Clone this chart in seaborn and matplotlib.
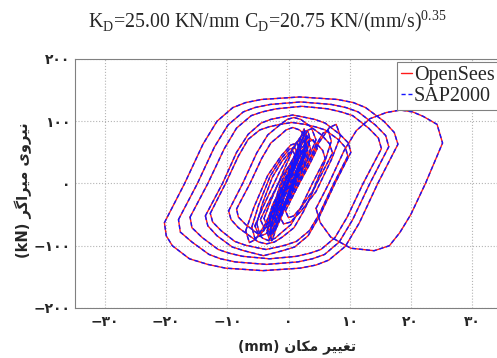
import matplotlib
matplotlib.use("Agg")
import matplotlib.pyplot as plt
from matplotlib.lines import Line2D
import pandas as pd
import seaborn as sns

# damper hysteresis loops, (displacement mm, force kN), clockwise
outer_1 = [(-20.3, -63), (-17.0, 0), (-14.0, 63), (-11.7, 100), (-9.1, 122), (-7.0, 130), (-4.4, 135),
           (1.8, 139), (8.0, 135), (10.6, 130), (12.6, 122), (15.6, 100), (17.3, 82), (17.9, 63),
           (14.6, 0), (11.6, -63), (9.3, -101), (6.6, -123), (4.5, -131), (1.9, -136), (-4.2, -140),
           (-10.3, -136), (-13.2, -130), (-16.2, -121), (-19.0, -100), (-20.0, -84)]
outer_2 = [(-18.0, -58), (-14.9, 0), (-12.1, 59), (-9.9, 94), (-7.4, 115), (-5.5, 122), (-3.0, 127),
           (2.0, 131), (7.0, 127), (9.4, 122), (11.4, 115), (14.2, 94), (15.9, 77), (16.4, 59),
           (13.3, 0), (10.5, -58), (8.3, -94), (5.9, -114), (3.9, -121), (1.5, -126), (-3.6, -130),
           (-8.7, -126), (-11.1, -121), (-13.0, -114), (-15.8, -94), (-17.7, -78)]
outer_3 = [(-16.1, -54), (-13.2, 0), (-10.5, 56), (-8.5, 89), (-6.1, 109), (-4.3, 115), (-2.0, 120),
           (2.2, 124), (6.4, 120), (8.6, 115), (10.5, 109), (13.1, 89), (14.7, 73), (15.2, 56),
           (12.2, 0), (9.6, -54), (7.6, -87), (5.3, -106), (3.5, -112), (1.3, -117), (-3.1, -121),
           (-7.5, -117), (-9.7, -112), (-11.5, -106), (-14.1, -87), (-15.8, -71)]
outer_4 = [(-13.6, -52), (-10.8, 0), (-8.5, 50), (-6.6, 79), (-4.5, 97), (-2.9, 103), (-0.9, 107),
           (0.7, 110), (2.3, 107), (4.3, 103), (6.0, 97), (8.4, 79), (9.8, 65), (10.2, 50),
           (7.6, 0), (5.1, -52), (3.2, -84), (1.0, -102), (-1.0, -108), (-2.9, -113), (-4.1, -116),
           (-5.3, -113), (-7.3, -108), (-9.2, -102), (-11.7, -84), (-13.2, -68)]
outer_5 = [(-12.8, -48), (-10.3, 0), (-8.2, 44), (-6.6, 71), (-4.7, 86), (-3.2, 91), (-1.4, 95),
           (0.6, 98), (2.7, 95), (4.4, 91), (6.0, 86), (8.1, 71), (9.3, 58), (9.7, 44),
           (7.4, 0), (5.1, -48), (3.4, -76), (1.3, -93), (-0.5, -99), (-2.2, -103), (-3.7, -106),
           (-5.2, -103), (-7.1, -99), (-8.8, -93), (-11.0, -76), (-12.4, -62)]
mid_6 = [(-9.8, -44), (-7.5, 0), (-5.2, 49), (-3.4, 78), (-1.3, 95), (-0.2, 103), (0.9, 106),
         (2.0, 103), (3.1, 95), (5.4, 78), (6.7, 64), (7.2, 49), (4.6, 0), (2.5, -44), (0.9, -71),
         (-1.0, -86), (-2.3, -94), (-3.6, -97), (-4.9, -94), (-6.1, -86), (-8.2, -71), (-9.4, -58)]
mid_7 = [(-8.5, -41), (-6.3, 0), (-4.4, 40), (-2.9, 65), (-1.2, 79), (-0.4, 86), (0.7, 90),
         (1.8, 86), (2.6, 79), (4.5, 65), (5.6, 53), (6.0, 40), (3.9, 0), (1.9, -41), (0.4, -66),
         (-1.4, -81), (-2.2, -88), (-3.2, -92), (-4.2, -88), (-5.0, -81), (-7.0, -66), (-8.2, -54)]
right_big = [(4.5, -40), (6.6, 0), (9.1, 53), (11.1, 85), (13.3, 104), (16.0, 114), (18.3, 118),
             (20.3, 115), (22.0, 108), (24.3, 95), (25.2, 65), (22.4, 0), (20.0, -50), (18.2, -79),
             (16.5, -100), (14.0, -108), (10.2, -104), (6.9, -86), (5.2, -63)]
small_m1 = [(-5.5, -68), (-4.0, -34), (-1.5, 18), (1.0, 62), (2.7, 84), (3.8, 88),
            (4.5, 70), (3.0, 35), (0.5, -17), (-2.0, -60), (-3.7, -81), (-4.8, -85)]
small_m2 = [(-4.6, -58), (-3.2, -29), (-0.9, 14), (1.45, 49), (3.0, 66), (4.05, 70),
            (4.7, 56), (3.3, 28), (1.0, -14), (-1.35, -50), (-2.9, -68), (-3.95, -72)]
small_m3 = [(-4.0, -56), (-2.9, -28), (-1.0, 16), (0.8, 56), (2.1, 76), (2.9, 80),
            (3.4, 64), (2.3, 32), (0.4, -14), (-1.4, -49), (-2.7, -66), (-3.5, -70)]
small_p1 = [(-7.0, -76), (-5.65, -38), (-3.4, 13), (-1.15, 45), (0.4, 62), (1.4, 65),
            (2.0, 52), (0.65, 26), (-1.6, -19), (-3.85, -66), (-5.4, -90), (-6.4, -95)]
small_p2 = [(-6.0, -70), (-4.9, -35), (-3.0, 12), (-1.1, 41), (0.15, 55), (1.0, 58),
            (1.5, 46), (0.4, 23), (-1.5, -18), (-3.4, -62), (-4.65, -84), (-5.5, -88)]
small_p3 = [(-5.2, -64), (-4.25, -32), (-2.65, 10), (-1.05, 36), (0.05, 49), (0.75, 52),
            (1.2, 42), (0.25, 21), (-1.35, -16), (-2.95, -56), (-4.05, -76), (-4.75, -80)]
small_r1 = [(-1.5, -52), (0.0, -26), (2.5, 19), (5.0, 66), (6.7, 90), (7.8, 95),
            (8.5, 76), (7.0, 38), (4.5, -13), (2.0, -45), (0.3, -62), (-0.8, -65)]
small_r2 = [(-0.5, -44), (0.63, -22), (2.5, 17), (4.4, 60), (5.65, 81), (6.5, 85),
            (7.0, 68), (5.9, 34), (4.0, -11), (2.1, -38), (0.85, -52), (0.0, -55)]
core_1 = [(-3.5, -76), (-2.8, -50), (-0.7, 0), (1.4, 51), (2.45, 75), (3.15, 85),
          (3.5, 72), (2.8, 47), (0.7, 0), (-1.4, -54), (-2.45, -79), (-3.15, -90)]
core_2 = [(-3.0, -68), (-2.4, -44), (-0.6, 0), (1.2, 42), (2.1, 62), (2.7, 70),
          (3.0, 60), (2.4, 38), (0.6, 0), (-1.2, -48), (-2.1, -70), (-2.7, -80)]
core_3 = [(-2.6, -60), (-2.0, -38), (-0.3, 0), (1.45, 36), (2.35, 53), (2.9, 60),
          (3.2, 51), (2.6, 33), (0.9, 0), (-0.85, -42), (-1.75, -62), (-2.3, -70)]
core_4 = [(-2.2, -55), (-1.7, -36), (-0.3, 0), (1.15, 33), (1.9, 48), (2.35, 55),
          (2.6, 47), (2.1, 30), (0.7, 0), (-0.75, -39), (-1.5, -57), (-1.95, -65)]
core_5 = [(-2.0, -47), (-1.55, -30), (-0.25, 0), (1.1, 30), (1.75, 44), (2.2, 50),
          (2.4, 42), (1.95, 27), (0.65, 0), (-0.7, -33), (-1.35, -48), (-1.8, -55)]
core_6 = [(-1.6, -42), (-1.25, -27), (-0.15, 0), (0.9, 27), (1.45, 40), (1.8, 45),
          (2.0, 38), (1.65, 25), (0.55, 0), (-0.5, -30), (-1.05, -44), (-1.4, -50)]
core_7 = [(-1.2, -34), (-0.9, -22), (-0.1, 0), (0.75, 21), (1.2, 31), (1.45, 35),
          (1.6, 30), (1.3, 19), (0.5, 0), (-0.35, -24), (-0.8, -35), (-1.05, -40)]
core_8 = [(-3.2, -53), (-2.6, -34), (-0.8, 0), (1.0, 45), (1.9, 66), (2.5, 75),
          (2.8, 64), (2.2, 41), (0.4, 0), (-1.4, -37), (-2.3, -55), (-2.9, -62)]
core_9 = [(-2.8, -66), (-2.15, -43), (-0.25, 0), (1.7, 40), (2.65, 58), (3.3, 66),
          (3.6, 56), (2.95, 36), (1.05, 0), (-0.9, -47), (-1.85, -69), (-2.5, -78)]
core_10 = [(-1.8, -38), (-1.35, -25), (0.05, 0), (1.4, 53), (2.1, 77), (2.55, 88),
           (2.8, 75), (2.35, 48), (0.95, 0), (-0.4, -27), (-1.1, -40), (-1.55, -45)]
core_11 = [(-3.0, -78), (-2.5, -51), (-1.1, 0), (0.35, 24), (1.1, 35), (1.55, 40),
           (1.8, 34), (1.3, 22), (-0.1, 0), (-1.55, -55), (-2.3, -81), (-2.75, -92)]
core_12 = [(-2.4, -51), (-1.86, -33), (-0.24, 0), (1.38, 48), (2.19, 70), (2.73, 80),
           (3.0, 68), (2.46, 44), (0.84, 0), (-0.78, -36), (-1.59, -53), (-2.13, -60)]
core_13 = [(-1.4, -41), (-0.98, -26), (0.28, 0), (1.54, 43), (2.17, 63), (2.59, 72),
           (2.8, 61), (2.38, 40), (1.12, 0), (-0.14, -29), (-0.77, -42), (-1.19, -48)]
core_14 = [(-3.3, -72), (-2.8, -47), (-1.3, 0), (0.2, 30), (0.95, 44), (1.45, 50),
           (1.7, 42), (1.2, 27), (-0.3, 0), (-1.8, -51), (-2.55, -75), (-3.05, -85)]

loops = {
    "outer_1": outer_1, "outer_2": outer_2, "outer_3": outer_3, "outer_4": outer_4,
    "outer_5": outer_5, "mid_6": mid_6, "mid_7": mid_7, "right_big": right_big,
    "small_m1": small_m1, "small_m2": small_m2, "small_m3": small_m3,
    "small_p1": small_p1, "small_p2": small_p2, "small_p3": small_p3,
    "small_r1": small_r1, "small_r2": small_r2,
    "core_1": core_1, "core_2": core_2, "core_3": core_3, "core_4": core_4,
    "core_5": core_5, "core_6": core_6, "core_7": core_7, "core_8": core_8,
    "core_9": core_9, "core_10": core_10, "core_11": core_11, "core_12": core_12,
    "core_13": core_13, "core_14": core_14,
}

x_ticks = [-30, -20, -10, 0, 10, 20, 30]
x_tick_labels = ["\u2212\u06f3\u06f0", "\u2212\u06f2\u06f0", "\u2212\u06f1\u06f0", "\u06f0",
                 "\u06f1\u06f0", "\u06f2\u06f0", "\u06f3\u06f0"]
y_ticks = [-200, -100, 0, 100, 200]
y_tick_labels = ["\u2212\u06f2\u06f0\u06f0", "\u2212\u06f1\u06f0\u06f0", "\u06f0",
                 "\u06f1\u06f0\u06f0", "\u06f2\u06f0\u06f0"]

# persian labels written in shaped presentation forms, visual order
x_label = "(mm) \ufee5\ufe8e\ufb91\ufee3 \ufeae\ufef4\ufef4\ufed0\ufe97"
y_label = "(kN) \ufeae\ufb94\ufe8d\ufeae\ufef4\ufee3 \ufeef\ufeed\ufeae\ufef4\ufee7"
title = (r"K$_{\mathregular{D}}$=25.00 KN/mm C$_{\mathregular{D}}$=20.75 "
         r"KN/(mm/s)$^{\mathregular{0.35}}$")

rows = []
for name, pts in loops.items():
    closed = pts + pts[:1]
    for i, (d, f) in enumerate(closed):
        rows.append((name, i, d, f))
df = pd.DataFrame(rows, columns=["loop", "step", "disp", "force"])

sns.set_theme(style="white")
plt.rcParams["font.family"] = ["DejaVu Sans"]

red = "#ff1a1a"
blue = "#1414ff"

fig = plt.figure(figsize=(4.97, 3.58), dpi=100)
ax = fig.add_axes([0.150, 0.1397, 0.861, 0.6955])

sns.lineplot(data=df, x="disp", y="force", units="loop", estimator=None, sort=False,
             color=red, lw=1.0, ax=ax, legend=False)
sns.lineplot(data=df, x="disp", y="force", units="loop", estimator=None, sort=False,
             color=blue, lw=1.0, linestyle=(0, (3, 2)), ax=ax, legend=False)

ax.set_xlim(-35, 35)
ax.set_ylim(-200, 200)
ax.set_xticks(x_ticks)
ax.set_xticklabels(x_tick_labels, fontweight="bold", fontsize=10)
ax.set_yticks(y_ticks)
ax.set_yticklabels(y_tick_labels, fontweight="bold", fontsize=10)
ax.grid(True, linestyle=":", color="#b4b4b4", lw=0.8)
ax.tick_params(axis="x", direction="in", length=3, color="#808080", pad=5)
ax.tick_params(axis="y", direction="in", length=3, color="#808080", pad=3)
for sp in ax.spines.values():
    sp.set_color("#808080")
    sp.set_linewidth(0.8)

ax.set_xlabel(x_label, fontweight="bold", fontsize=10)
ax.xaxis.set_label_coords(0.52, -0.125)
ax.set_ylabel(y_label, fontweight="bold", fontsize=10.5)
ax.yaxis.set_label_coords(-0.099, 0.474)

handles = [Line2D([], [], color=red, lw=1.0),
           Line2D([], [], color=blue, lw=1.0, linestyle=(0, (3, 2)))]
leg = ax.legend(handles, ["OpenSees", "SAP2000"], loc="upper left",
                bbox_to_anchor=(0.7535, 0.988), prop={"family": "Liberation Serif", "size": 14.5},
                frameon=True, fancybox=False, edgecolor="#808080", framealpha=1,
                borderaxespad=0, handlelength=0.55, handletextpad=0.08,
                borderpad=0.2, labelspacing=0.08)
leg.get_frame().set_linewidth(0.8)

fig.text(0.538, 0.925, title, ha="center", va="baseline",
         family="Liberation Serif", fontsize=14.3)

fig.savefig("out.png", dpi=100)
